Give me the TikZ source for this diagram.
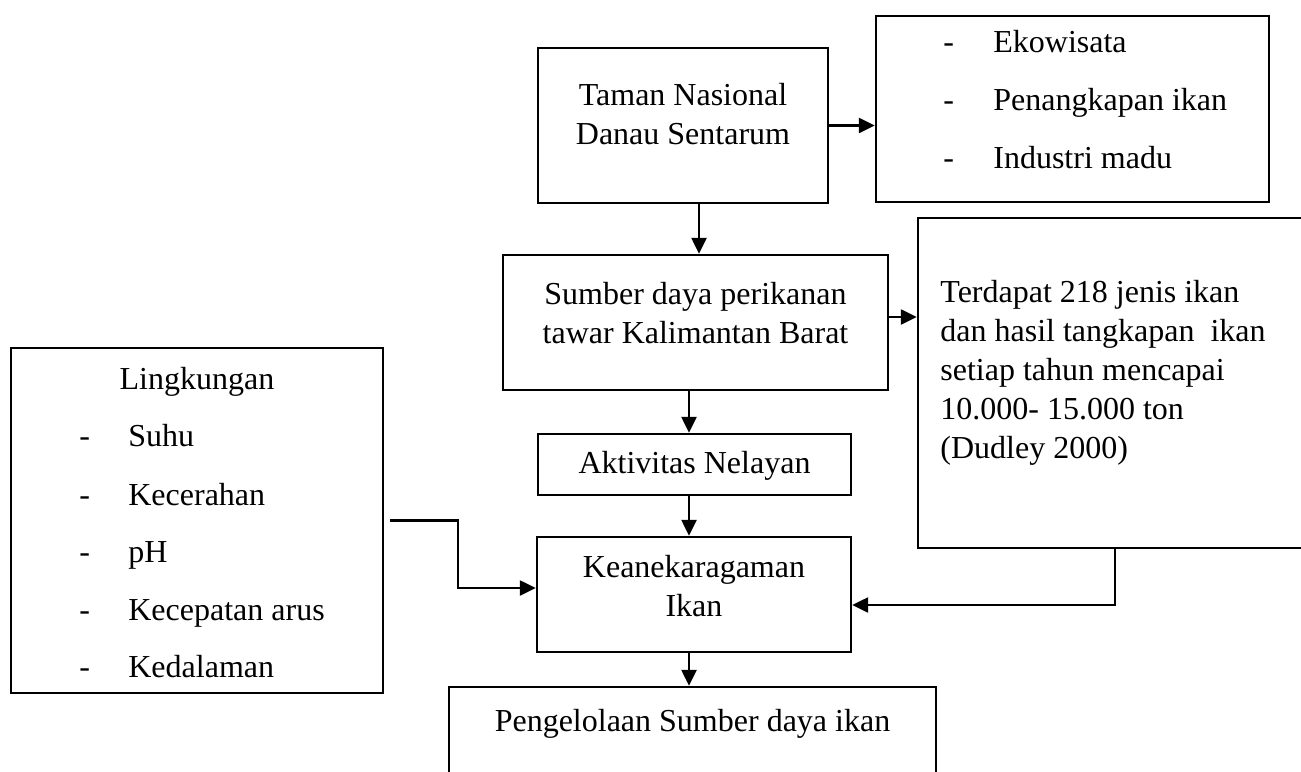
\documentclass[tikz,border=0pt]{standalone}
\usepackage{fontspec}
\setmainfont{Liberation Serif}
\usetikzlibrary{arrows.meta}

\begin{document}
\begin{tikzpicture}[x=0.5pt,y=-0.5pt,
	kotak/.style={draw,line width=1.2pt,inner sep=0pt},
	teks/.style={inner sep=0pt,anchor=north,align=center,font=\fontsize{16pt}{19.5pt}\selectfont},
	butir/.style={inner sep=0pt,anchor=base west,font=\fontsize{16pt}{19.5pt}\selectfont},
	panah/.style={line width=1.2pt,-{Triangle[length=8pt,width=7.5pt]}}]
	
	% 画布大小
	\useasboundingbox (0,0) rectangle (1301,771);
	\clip (0,0) rectangle (1301,771);
	
	% 绘制方框
	\node[kotak,minimum width=145pt,minimum height=77.5pt] (taman) at (683,125.5) {};
	\node[kotak,minimum width=196.5pt,minimum height=93pt] (kegiatan) at (1072.5,109) {};
	\node[kotak,minimum width=192.5pt,minimum height=67.5pt] (sumber) at (695.5,322.5) {};
	\node[kotak,minimum width=216pt,minimum height=165pt] (terdapat) at (1134,383) {}; % 右边被裁掉
	\node[kotak,minimum width=156.5pt,minimum height=30.5pt] (aktivitas) at (694.5,464.5) {};
	\node[kotak,minimum width=157pt,minimum height=57.5pt] (keragaman) at (694,594.5) {};
	\node[kotak,minimum width=186pt,minimum height=172.5pt] (lingkungan) at (197,520.5) {};
	\node[kotak,minimum width=243.5pt,minimum height=76.5pt] (pengelolaan) at (692.5,763.5) {}; % 下边被裁掉
	
	% 方框里的文字
	\node[teks] (tTaman) at (683,78) {\strut Taman Nasional\\Danau Sentarum};
	\node[teks] (tSumber) at (695.5,277) {\strut Sumber daya perikanan\\tawar Kalimantan Barat};
	\node[teks,anchor=north west,align=left] (tTerdapat) at (940,275)
	{\strut Terdapat 218 jenis ikan\\dan hasil tangkapan\ \ ikan\\setiap tahun mencapai\\10.000- 15.000 ton\\(Dudley 2000)};
	\node[teks] (tAktivitas) at (694.5,446) {\strut Aktivitas Nelayan};
	\node[teks] (tKeragaman) at (694,550) {\strut Keanekaragaman\\Ikan};
	\node[teks] (tPengelolaan) at (692.5,704) {\strut Pengelolaan Sumber daya ikan};
	\node[teks] (tLingkungan) at (197,362) {\strut Lingkungan};
	
	% 列表
	\node[butir] (eko) at (943,53) {\makebox[25pt][l]{-}Ekowisata};
	\node[butir] (tangkap) at (943,110) {\makebox[25pt][l]{-}Penangkapan ikan};
	\node[butir] (madu) at (943,168) {\makebox[25pt][l]{-}Industri madu};
	\node[butir] (suhu) at (79,446) {\makebox[24.5pt][l]{-}Suhu};
	\node[butir] (cerah) at (79,505) {\makebox[24.5pt][l]{-}Kecerahan};
	\node[butir] (ph) at (79,562) {\makebox[24.5pt][l]{-}pH};
	\node[butir] (arus) at (79,620) {\makebox[24.5pt][l]{-}Kecepatan arus};
	\node[butir] (dalam) at (79,677) {\makebox[24.5pt][l]{-}Kedalaman};
	
	% 箭头
	\draw[panah] (taman.east) -- (taman.east -| kegiatan.west);
	\draw[panah] ([xshift=8pt]taman.south) -- ([xshift=8pt]taman.south |- sumber.north);
	\draw[panah] ([yshift=2.75pt]sumber.east) -- ([yshift=2.75pt]sumber.east -| terdapat.west);
	\draw[panah] ([xshift=-3.25pt]sumber.south) -- ([xshift=-3.25pt]sumber.south |- aktivitas.north);
	\draw[panah] ([xshift=-2.75pt]aktivitas.south) -- ([xshift=-2.75pt]aktivitas.south |- keragaman.north);
	\draw[panah] ([xshift=-2.5pt]keragaman.south) -- ([xshift=-2.5pt]keragaman.south |- pengelolaan.north);
	
	% 折线箭头
	\coordinate (belok) at (458,520.5);
	\coordinate (turun) at (1115,0);
	\draw[panah] ([xshift=3pt]lingkungan.east) -- (belok) |- ([yshift=3.25pt]keragaman.west);
	\draw[panah] (terdapat.south -| turun) |- ([yshift=-5.25pt]keragaman.east);
	
\end{tikzpicture}
\end{document}
